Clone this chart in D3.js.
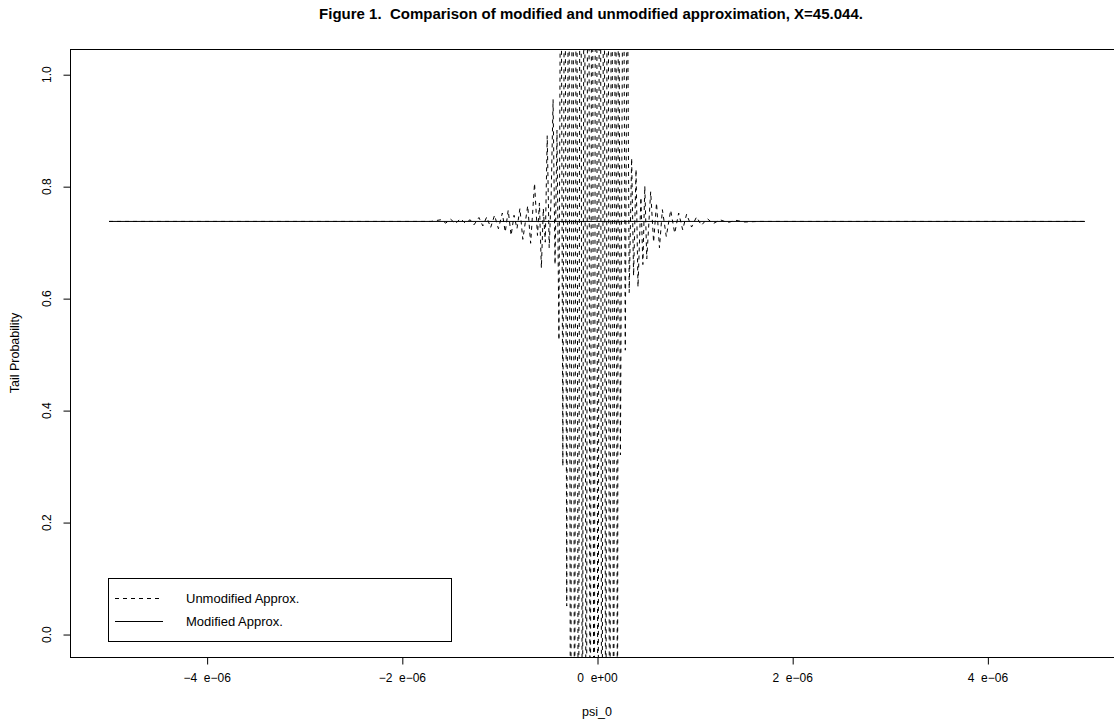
<!DOCTYPE html>
<html><head><meta charset="utf-8">
<script src="https://cdn.jsdelivr.net/npm/d3@7"></script>
<style>body{margin:0;background:#fff}svg{display:block}text{font-family:"Liberation Sans",Arial,sans-serif;fill:#000;white-space:pre}</style>
</head><body><svg id="c" width="1114" height="719"></svg>
<script>
const title = "Figure 1.  Comparison of modified and unmodified approximation, X=45.044.";
const xLabel = "psi_0";
const yLabel = "Tail Probability";
const xTicks = [-4e-6, -2e-6, 0, 2e-6, 4e-6];
const xTickLabels = ["\u22124  e\u221206", "\u22122  e\u221206", "0  e+00", "2  e\u221206", "4  e\u221206"];
const yTicks = [0, 0.2, 0.4, 0.6, 0.8, 1.0];
const yTickLabels = ["0.0", "0.2", "0.4", "0.6", "0.8", "1.0"];
const legendLabels = ["Unmodified Approx.", "Modified Approx."];

// psi values in units of 1e-6
const psiUnmod = [-5.0,-2.0,-1.70,-1.60,-1.55,-1.50,-1.45,-1.40,-1.35,-1.30,-1.26,-1.21,-1.17,-1.13,-1.09,-1.05,-1.01,-0.97,-0.94,-0.91,-0.88,-0.85,-0.82,-0.79,-0.76,-0.71,-0.68,-0.64,-0.61,-0.59,-0.57,-0.55,-0.53,-0.51,-0.49,-0.47,-0.45,-0.43,-0.41,-0.39,-0.37,-0.35,-0.33,
 -0.31,-0.29,-0.27,-0.25,-0.23,-0.21,-0.19,-0.17,-0.15,-0.13,-0.11,-0.09,-0.07,-0.05,-0.03,-0.01,0.01,0.03,0.05,0.07,0.09,0.11,0.13,0.15,0.17,0.19,0.21,0.22,
 0.24,0.27,0.29,0.31,0.33,0.355,0.375,0.40,0.42,0.45,0.47,0.49,0.51,0.55,0.58,0.61,0.64,0.67,0.71,0.755,0.796,0.837,0.878,0.918,0.969,1.02,1.07,1.13,1.19,1.26,1.34,1.42,1.51,1.66,5.0];
const probUnmod = [0.737,0.737,0.737,0.740,0.734,0.741,0.733,0.742,0.734,0.740,0.731,0.744,0.729,0.745,0.726,0.748,0.724,0.752,0.718,0.757,0.712,0.748,0.724,0.760,0.705,0.765,0.698,0.805,0.712,0.770,0.654,0.760,0.700,0.890,0.690,0.780,0.955,0.660,0.900,0.525,1.400,0.300,1.500,
 0.05,1.60,-0.50,1.90,-0.40,1.70,-0.60,2.10,-0.45,1.80,-0.70,2.30,-0.55,2.00,-0.80,2.40,-0.60,2.20,-0.75,1.90,-0.50,2.10,-0.65,1.80,-0.40,1.60,-0.30,1.50,
 0.32,1.40,0.507,1.25,0.61,0.85,0.64,0.83,0.62,0.78,0.66,0.80,0.67,0.79,0.70,0.77,0.69,0.758,0.71,0.757,0.716,0.752,0.722,0.750,0.727,0.745,0.730,0.742,0.733,0.740,0.735,0.739,0.736,0.737,0.737];
const psiMod = [-5.0, 5.0];
const probMod = [0.737, 0.737];

const svg = d3.select("#c");
const L = 70, R = 1124, T = 49, B = 657;
const x = d3.scaleLinear().domain([-5.4e-6, 5.4e-6]).range([L, R]);
const y = d3.scaleLinear().domain([-0.041, 1.045]).range([B, T]);

svg.append("defs").append("clipPath").attr("id","clip")
  .append("rect").attr("x",L).attr("y",T).attr("width",R-L).attr("height",B-T);

const line = d3.line().x(d => x(d[0]*1e-6)).y(d => y(d[1]));
const g = svg.append("g").attr("clip-path","url(#clip)");
g.append("path").datum(psiMod.map((p,i)=>[p,probMod[i]]))
  .attr("d", line).attr("fill","none").attr("stroke","#000").attr("stroke-width",1);
g.append("path").datum(psiUnmod.map((p,i)=>[p,probUnmod[i]]))
  .attr("d", line).attr("fill","none").attr("stroke","#000").attr("stroke-width",1).attr("stroke-dasharray","4,4");

// box
svg.append("rect").attr("x",L+0.5).attr("y",T+0.5).attr("width",R-L).attr("height",B-T)
  .attr("fill","none").attr("stroke","#000").attr("stroke-width",1);

// x axis
const xa = svg.append("g").attr("transform",`translate(0,${B+0.5})`)
  .call(d3.axisBottom(x).tickValues(xTicks).tickSize(7).tickFormat((d,i)=>xTickLabels[i]));
xa.select(".domain").remove();
xa.selectAll("line").attr("stroke","#000").attr("transform","translate(0.5,0)");
xa.selectAll("text").attr("font-size","12px").attr("y",16).attr("dy","0.71em").attr("font-family","Liberation Sans, Arial, sans-serif");

// y axis
const ya = svg.append("g").attr("transform",`translate(${L+0.5},0)`)
  .call(d3.axisLeft(y).tickValues(yTicks).tickSize(7).tickFormat((d,i)=>yTickLabels[i]));
ya.select(".domain").remove();
ya.selectAll("line").attr("stroke","#000").attr("transform","translate(0,0.5)");
ya.selectAll("text").attr("font-size","12px").attr("font-family","Liberation Sans, Arial, sans-serif")
  .attr("x",null).attr("dy",null).attr("text-anchor","middle")
  .attr("transform","translate(-20,0) rotate(-90)");

// labels
svg.append("text").attr("x",591).attr("y",19).attr("text-anchor","middle")
  .attr("font-size","15px").attr("font-weight","bold").text(title);
svg.append("text").attr("x",597).attr("y",716).attr("text-anchor","middle").attr("font-size","12.5px").text(xLabel);
svg.append("text").attr("transform","translate(19,353) rotate(-90)").attr("text-anchor","middle").attr("font-size","12.5px").text(yLabel);

// legend
const lg = svg.append("g");
lg.append("rect").attr("x",108.5).attr("y",578.5).attr("width",343).attr("height",63)
  .attr("fill","#fff").attr("stroke","#000");
lg.append("line").attr("x1",115).attr("x2",163).attr("y1",598.5).attr("y2",598.5)
  .attr("stroke","#000").attr("stroke-dasharray","4,4");
lg.append("line").attr("x1",115).attr("x2",163).attr("y1",621.5).attr("y2",621.5).attr("stroke","#000");
lg.selectAll("text.l").data(legendLabels).join("text").attr("class","l")
  .attr("x",186).attr("y",(d,i)=>603+i*23).attr("font-size","13px").text(d=>d);
</script></body></html>
